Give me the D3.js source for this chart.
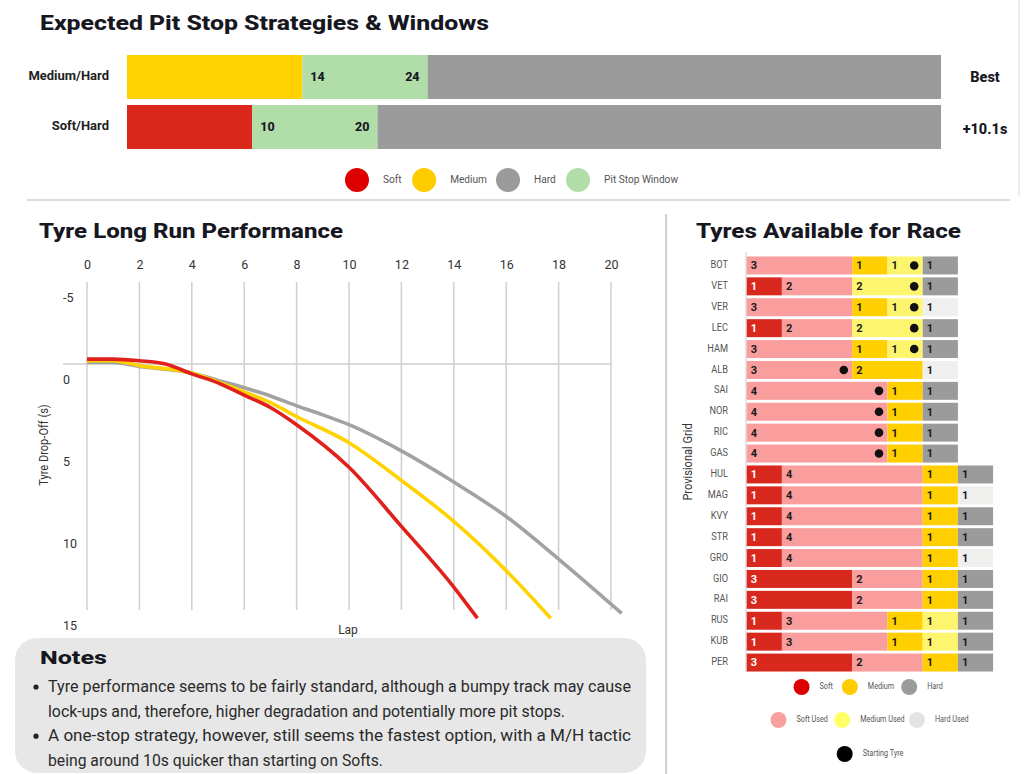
<!DOCTYPE html>
<html>
<head>
<meta charset="utf-8">
<style>
  body { margin: 0; background: #fff; }
  text { font-family: Roboto, "Open Sans", sans-serif; }
</style>
</head>
<body>
<svg width="1024" height="774"></svg>
<script src="https://cdn.jsdelivr.net/npm/d3@7"></script>
<script>
// ---- strategy bars
var strategies = ["Medium/Hard", "Soft/Hard"];
var firstCompound = ["Medium", "Soft"];
var windowOpen = [14, 10];
var windowClose = [24, 20];
var deltas = ["Best", "+10.1s"];
var raceLaps = 65;

var legendNames = ["Soft", "Medium", "Hard", "Pit Stop Window"];

// ---- long run performance (lap, drop-off in s)
var softLaps   = [0, 1, 2, 3, 4, 5, 6, 7, 8, 10, 12, 14, 14.9];
var softDrop   = [-0.3, -0.3, -0.2, 0.0, 0.6, 1.15, 1.9, 2.65, 3.7, 6.3, 9.9, 13.6, 15.5];
var mediumLaps = [0, 1, 2, 4, 5, 6, 7, 8, 10, 12, 14, 16, 17.7];
var mediumDrop = [-0.2, -0.2, 0.1, 0.55, 1.1, 1.7, 2.35, 3.2, 4.8, 7.1, 9.6, 12.6, 15.5];
var hardLaps   = [0, 1, 2, 4, 5, 6, 7, 8, 9, 10, 12, 14, 16, 18, 20.4];
var hardDrop   = [-0.1, -0.1, 0.15, 0.55, 1.0, 1.45, 1.95, 2.55, 3.1, 3.7, 5.3, 7.2, 9.3, 11.9, 15.2];
var lapTicks = [0, 2, 4, 6, 8, 10, 12, 14, 16, 18, 20];
var dropTicks = [-5, 0, 5, 10, 15];

// ---- tyres available (S soft, SU soft used, M medium, MU medium used, H hard, HU hard used)
var drivers = ["BOT","VET","VER","LEC","HAM","ALB","SAI","NOR","RIC","GAS",
               "HUL","MAG","KVY","STR","GRO","GIO","RAI","RUS","KUB","PER"];
var tyreSets = [
  [["SU",3],["M",1],["MU",1],["H",1]],
  [["S",1],["SU",2],["MU",2],["H",1]],
  [["SU",3],["M",1],["MU",1],["HU",1]],
  [["S",1],["SU",2],["MU",2],["H",1]],
  [["SU",3],["M",1],["MU",1],["H",1]],
  [["SU",3],["M",2],["HU",1]],
  [["SU",4],["M",1],["H",1]],
  [["SU",4],["M",1],["H",1]],
  [["SU",4],["M",1],["H",1]],
  [["SU",4],["M",1],["H",1]],
  [["S",1],["SU",4],["M",1],["H",1]],
  [["S",1],["SU",4],["M",1],["HU",1]],
  [["S",1],["SU",4],["M",1],["H",1]],
  [["S",1],["SU",4],["M",1],["H",1]],
  [["S",1],["SU",4],["M",1],["HU",1]],
  [["S",3],["SU",2],["M",1],["H",1]],
  [["S",3],["SU",2],["M",1],["H",1]],
  [["S",1],["SU",3],["M",1],["MU",1],["H",1]],
  [["S",1],["SU",3],["M",1],["MU",1],["H",1]],
  [["S",3],["SU",2],["M",1],["H",1]]
];
// segment index holding the starting tyre, -1 = none shown
var startSet = [2,2,2,2,2,0,0,0,0,0,-1,-1,-1,-1,-1,-1,-1,-1,-1,-1];

var tyreLegendRows = [["Soft","Medium","Hard"], ["Soft Used","Medium Used","Hard Used"], ["Starting Tyre"]];
var tyreLegendKeys = [["S","M","H"], ["SU","MU","HU"], ["ST"]];

var notes = [
  ["Tyre performance seems to be fairly standard, although a bumpy track may cause",
   "lock-ups and, therefore, higher degradation and potentially more pit stops."],
  ["A one-stop strategy, however, still seems the fastest option, with a M/H tactic",
   "being around 10s quicker than starting on Softs."]
];

var compoundColor = {Soft: "#da291c", Medium: "#ffd100", Hard: "#9b9b9b", "Pit Stop Window": "#b1dea8"};
var legendColor = {Soft: "#dd0000", Medium: "#ffcc00", Hard: "#9b9b9b", "Pit Stop Window": "#b1dea8"};
var lineColor = {Soft: "#e0201b", Medium: "#ffd200", Hard: "#a2a2a2"};
var tyreColor = {S: "#d9281e", SU: "#f99d9d", M: "#ffcf00", MU: "#fdf56e", H: "#9b9b9b", HU: "#efefee", ST: "#000"};
var tyreLegendColor = {S: "#dd0000", SU: "#f9a0a0", M: "#ffcc00", MU: "#ffff66", H: "#9b9b9b", HU: "#e3e3e3", ST: "#000"};

var svg = d3.select("svg");
var headFont = "Inter, 'DejaVu Sans', sans-serif";
var ink = "#17171f";

function heading(x, y, str, len, size) {
  svg.append("text")
    .attr("x", x).attr("y", y)
    .attr("font-family", headFont).attr("font-weight", 800)
    .attr("font-size", size).attr("fill", ink)
    .attr("textLength", len).attr("lengthAdjust", "spacingAndGlyphs")
    .text(str);
}

// squeeze text a bit, the original uses a condensed face
function condense(sel, k) {
  sel.each(function() {
    var w = this.getComputedTextLength();
    d3.select(this).attr("textLength", w * k).attr("lengthAdjust", "spacingAndGlyphs");
  });
}

// ================= strategies =================
heading(40, 30, "Expected Pit Stop Strategies & Windows", 449, 21);

var sx = d3.scaleLinear().domain([0, raceLaps]).range([127, 941]);
var sy = d3.scaleBand().domain(strategies).range([55, 149]).paddingInner(0.12);

strategies.forEach(function(s, i) {
  var segs = [
    {a: 0, b: windowOpen[i], c: compoundColor[firstCompound[i]]},
    {a: windowOpen[i], b: windowClose[i], c: compoundColor["Pit Stop Window"]},
    {a: windowClose[i], b: raceLaps, c: compoundColor.Hard}
  ];
  var g = svg.append("g");
  g.selectAll("rect").data(segs).enter().append("rect")
    .attr("x", function(d) { return sx(d.a); })
    .attr("width", function(d) { return sx(d.b) - sx(d.a); })
    .attr("y", sy(s)).attr("height", sy.bandwidth())
    .attr("fill", function(d) { return d.c; });

  var cy = sy(s) + sy.bandwidth() / 2 + 1;
  g.append("text").attr("x", sx(windowOpen[i]) + 8).attr("y", cy)
    .attr("dominant-baseline", "middle").attr("font-family", headFont).attr("font-weight", 800)
    .attr("font-size", 12.5).attr("fill", ink).text(windowOpen[i]);
  g.append("text").attr("x", sx(windowClose[i]) - 8).attr("y", cy)
    .attr("text-anchor", "end").attr("dominant-baseline", "middle").attr("font-family", headFont)
    .attr("font-weight", 800).attr("font-size", 12.5).attr("fill", ink).text(windowClose[i]);
  g.append("text").attr("x", 109).attr("y", cy - 1)
    .attr("text-anchor", "end").attr("dominant-baseline", "middle")
    .attr("font-family", "'Open Sans', sans-serif").attr("font-weight", 700)
    .attr("font-size", 13).attr("fill", "#222").text(s);
  g.append("text").attr("x", 985).attr("y", cy + (i ? 2 : 0))
    .attr("text-anchor", "middle").attr("dominant-baseline", "middle")
    .attr("font-family", headFont).attr("font-weight", 800)
    .attr("font-size", 14.5).attr("fill", ink).text(deltas[i]);
});

// top legend
var lg = svg.append("g");
var lxPos = 357;
legendNames.forEach(function(n) {
  lg.append("circle").attr("cx", lxPos).attr("cy", 180).attr("r", 12).attr("fill", legendColor[n]);
  var t = lg.append("text").attr("x", lxPos + 26).attr("y", 180)
    .attr("dominant-baseline", "middle").attr("font-size", 11).attr("fill", "#555").text(n);
  condense(t, 0.92);
  lxPos = lxPos + 26 + t.node().getComputedTextLength() * 0.92 + 24;
});

// separators
svg.append("line").attr("x1", 27).attr("x2", 1010).attr("y1", 200).attr("y2", 200)
  .attr("stroke", "#dcdcdc").attr("stroke-width", 2);
svg.append("line").attr("x1", 1019).attr("x2", 1019).attr("y1", 0).attr("y2", 196)
  .attr("stroke", "#e6e6e6").attr("stroke-width", 1.5);
svg.append("line").attr("x1", 666).attr("x2", 666).attr("y1", 214).attr("y2", 774)
  .attr("stroke", "#d0d0d0").attr("stroke-width", 2);

// ================= long run performance =================
heading(39, 238, "Tyre Long Run Performance", 304, 21);

var x = d3.scaleLinear().domain([0, 20]).range([87, 611]);
var y = d3.scaleLinear().domain([-5, 15]).range([282, 610]);

var grid = svg.append("g").attr("stroke", "#cfcfcf").attr("stroke-width", 1.5);
grid.selectAll("line.v").data(lapTicks).enter().append("line").attr("class", "v")
  .attr("x1", x).attr("x2", x).attr("y1", y(-5)).attr("y2", y(15));
grid.append("line").attr("x1", 63).attr("x2", x(20)).attr("y1", y(0)).attr("y2", y(0));

var xAxis = svg.append("g").attr("transform", "translate(0,269)")
  .call(d3.axisTop(x).tickValues(lapTicks).tickSize(0).tickPadding(0));
xAxis.select(".domain").remove();
xAxis.selectAll("text").attr("font-family", "'Open Sans', sans-serif").attr("font-size", 12.5).attr("fill", "#333");

var yAxis = svg.append("g").attr("transform", "translate(63,15)")
  .call(d3.axisRight(y).tickValues(dropTicks).tickSize(0).tickPadding(0)
    .tickFormat(function(d) { return String(d); }));
yAxis.select(".domain").remove();
yAxis.selectAll("text").attr("font-family", "'Open Sans', sans-serif").attr("font-size", 12.5).attr("fill", "#333");

var line = d3.line()
  .x(function(d) { return x(d[0]); })
  .y(function(d) { return y(d[1]); })
  .curve(d3.curveMonotoneX);

var runs = [
  {name: "Hard", laps: hardLaps, drop: hardDrop},
  {name: "Medium", laps: mediumLaps, drop: mediumDrop},
  {name: "Soft", laps: softLaps, drop: softDrop}
];
svg.append("g").selectAll("path").data(runs).enter().append("path")
  .attr("d", function(r) { return line(d3.zip(r.laps, r.drop)); })
  .attr("fill", "none")
  .attr("stroke", function(r) { return lineColor[r.name]; })
  .attr("stroke-width", 3.6)
  .attr("stroke-linecap", "butt");

var yt = svg.append("text").attr("transform", "translate(48,445) rotate(-90)")
  .attr("text-anchor", "middle").attr("font-size", 12).attr("fill", "#333").text("Tyre Drop-Off (s)");
condense(yt, 0.92);
svg.append("text").attr("x", 348).attr("y", 634).attr("text-anchor", "middle")
  .attr("font-size", 12).attr("fill", "#333").text("Lap");

// ================= notes =================
svg.append("rect").attr("x", 15).attr("y", 638).attr("width", 631).attr("height", 135)
  .attr("rx", 22).attr("fill", "#e7e7e7");
heading(40, 664, "Notes", 67, 19);
var noteLen = [[583, 517], [583, 335]];
var ny = 692;
notes.forEach(function(lines, i) {
  svg.append("circle").attr("cx", 36).attr("cy", ny - 5).attr("r", 2.6).attr("fill", "#222");
  lines.forEach(function(l, j) {
    svg.append("text").attr("x", 48).attr("y", ny).attr("font-size", 16).attr("fill", "#2a2a2a")
      .attr("textLength", noteLen[i][j]).attr("lengthAdjust", "spacingAndGlyphs").text(l);
    ny += 24.6;
  });
});

// ================= tyres available =================
heading(696, 238, "Tyres Available for Race", 265, 21);

var tx = d3.scaleLinear().domain([0, 7]).range([746.7, 993.1]);
var ty = d3.scaleBand().domain(drivers).range([255, 673]).paddingInner(0.14).paddingOuter(0.07);

svg.append("line").attr("x1", 746).attr("x2", 746).attr("y1", 252).attr("y2", 672)
  .attr("stroke", "#cccccc").attr("stroke-width", 1);

drivers.forEach(function(dv, i) {
  var acc = 0;
  var segs = tyreSets[i].map(function(s) {
    var o = {k: s[0], n: s[1], a: acc, b: acc + s[1]};
    acc += s[1];
    return o;
  });
  var row = svg.append("g");
  var top = ty(dv), h = ty.bandwidth(), cy = top + h / 2;
  row.selectAll("rect").data(segs).enter().append("rect")
    .attr("x", function(d) { return tx(d.a); })
    .attr("width", function(d) { return tx(d.b) - tx(d.a); })
    .attr("y", top).attr("height", h)
    .attr("fill", function(d) { return tyreColor[d.k]; });
  row.selectAll("text.n").data(segs).enter().append("text").attr("class", "n")
    .attr("x", function(d) { return tx(d.a) + 4; })
    .attr("y", cy + 1).attr("dominant-baseline", "middle")
    .attr("font-family", "'Open Sans', sans-serif").attr("font-weight", 700).attr("font-size", 11)
    .attr("fill", function(d) { return d.k == "S" ? "#fff" : "#1a1a1a"; })
    .text(function(d) { return d.n; });
  if (startSet[i] >= 0) {
    row.append("circle").attr("cx", tx(segs[startSet[i]].b) - 8.5).attr("cy", cy).attr("r", 4.3).attr("fill", "#111");
  }
  var lab = row.append("text").attr("x", 728).attr("y", cy).attr("text-anchor", "end")
    .attr("dominant-baseline", "middle").attr("font-size", 10).attr("fill", "#555").text(dv);
  condense(lab, 0.92);
});

var pg = svg.append("text").attr("transform", "translate(692,462) rotate(-90)")
  .attr("text-anchor", "middle").attr("font-size", 12).attr("fill", "#333").text("Provisional Grid");
condense(pg, 0.92);

// tyre legend, each row centred under the table
var legY = [687, 720, 754];
tyreLegendRows.forEach(function(names, r) {
  var g = svg.append("g");
  var cx = 0;
  names.forEach(function(n, j) {
    g.append("circle").attr("cx", cx + 8).attr("cy", legY[r]).attr("r", 8)
      .attr("fill", tyreLegendColor[tyreLegendKeys[r][j]]);
    var t = g.append("text").attr("x", cx + 26).attr("y", legY[r]).attr("dominant-baseline", "middle")
      .attr("font-size", 8.5).attr("fill", "#555").text(n);
    condense(t, 0.85);
    cx = cx + 26 + t.node().getComputedTextLength() * 0.85 + 11;
  });
  var w = cx - 11;
  g.attr("transform", "translate(" + (867 - w / 2) + ",0)");
});
</script>
</body>
</html>
